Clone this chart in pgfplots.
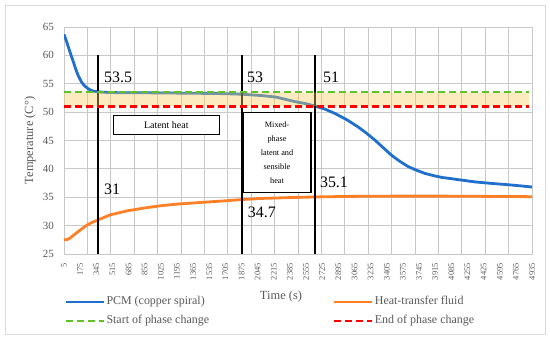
\documentclass[border=0pt]{standalone}
\usepackage{fontspec}
\setmainfont{Liberation Serif}
\usepackage{pgfplots}
\pgfplotsset{compat=1.18}
\definecolor{pcm}{RGB}{31,112,204}
\definecolor{htf}{RGB}{255,127,39}
\definecolor{startc}{RGB}{95,195,40}
\definecolor{endc}{RGB}{255,0,0}
\definecolor{bandc}{RGB}{247,205,92}
\definecolor{gridc}{RGB}{200,200,200}
\definecolor{txt}{RGB}{89,89,89}
\definecolor{framec}{RGB}{217,217,217}

\pgfplotstableread{
t T
5 63.7
20 63.0
33 62.4
50 61.5
68 60.6
85 59.75
103 58.9
120 58.0
139 57.1
156 56.4
174 55.8
190 55.3
208 54.9
235 54.45
261 54.1
290 53.85
314 53.7
366 53.58
420 53.5
500 53.45
600 53.42
900 53.4
1200 53.35
1500 53.3
1700 53.25
1885 53.15
2100 52.9
2238 52.65
2438 51.85
2550 51.5
2645 51.1
2750 50.55
2855 49.8
2980 48.7
3102 47.4
3190 46.3
3278 45.1
3370 43.7
3455 42.4
3545 41.3
3631 40.4
3720 39.75
3807 39.2
3900 38.8
3984 38.5
4160 38.1
4336 37.7
4500 37.45
4689 37.2
4850 36.95
4935 36.8
}\pcmdata

\pgfplotstableread{
t T
5 27.5
40 27.55
68 27.8
120 28.5
174 29.2
230 29.9
280 30.4
362 31.0
492 31.9
668 32.6
850 33.1
1021 33.5
1200 33.8
1373 34.0
1550 34.2
1726 34.4
1885 34.6
2100 34.8
2400 34.95
2645 35.05
3000 35.15
3500 35.2
4000 35.2
4500 35.15
4935 35.1
}\htfdata

\begin{document}
\begin{tikzpicture}[x=1bp,y=1bp]
\path[use as bounding box] (0,0) rectangle (550,339);
\draw[framec, line width=0.8bp] (5,5) rectangle (545,334);
\begin{axis}[
  at={(64bp,85bp)}, anchor=south west,
  scale only axis, width=468bp, height=227bp,
  xmin=5, xmax=4935, ymin=25, ymax=65,
  xtick={5,175,...,4935},
  minor xtick={5,251.5,498,744.5,991,1237.5,1484,1730.5,1977,2223.5,2470,2716.5,2963,3209.5,3456,3702.5,3949,4195.5,4442,4688.5,4935},
  ytick={25,30,...,65},
  ymajorgrids, xminorgrids, xmajorgrids=false,
  major grid style={gridc, line width=0.8bp},
  minor grid style={gridc, line width=0.8bp},
  axis line style={gridc, line width=0.8bp},
  major tick length=0pt, minor tick length=0pt,
  /pgf/number format/assume math mode=true,
  /pgf/number format/1000 sep={},
  tick label style={txt},
  yticklabel style={font=\fontsize{11}{12}\selectfont, inner sep=0pt, xshift=-10bp},
  xticklabel style={font=\fontsize{8.5}{9}\selectfont, rotate=90, anchor=east, inner sep=0pt, yshift=0bp, xshift=-9bp},
  every axis y label/.style={at={(axis description cs:-0.0726,0.5)}, rotate=90, anchor=center},
  every axis x label/.style={at={(axis description cs:0.4637,-0.189)}, anchor=center},
  label style={font=\fontsize{12.5}{14}\selectfont, txt},
  xlabel={Time (s)},
  ylabel={Temperature (C°)},
  legend columns=2,
  legend cell align=left,
  legend style={at={(axis description cs:0.0,-0.18)}, anchor=north west, draw=none, fill=none,
    inner sep=0pt, row sep=5bp,
    nodes={inner sep=1.5bp, text height=8bp, text depth=3bp, font=\fontsize{12}{13}\selectfont, text=txt},
    /tikz/every even column/.append style={column sep=122bp}},
  legend image code/.code={\draw[#1] (0bp,0bp) -- (38bp,0bp);},
]
\addplot[pcm, line width=2.8bp] table[x=t,y=T] {\pcmdata};
\addlegendentry{PCM (copper spiral)}
\addplot[htf, line width=2.8bp] table[x=t,y=T] {\htfdata};
\addlegendentry{Heat-transfer fluid}
\addplot[black, line width=1.8bp, forget plot] coordinates {(360,25) (360,60)};
\addplot[black, line width=1.8bp, forget plot] coordinates {(1878,25) (1878,60)};
\addplot[black, line width=1.8bp, forget plot] coordinates {(2645,25) (2645,60)};
\addplot[draw=none, fill=bandc, fill opacity=0.4, forget plot] coordinates {(5,51) (4905,51) (4905,53.5) (5,53.5) (5,51)};
\addplot[draw=startc, line width=2.4bp, dash pattern=on 7bp off 4bp] coordinates {(5,53.5) (4905,53.5)};
\addlegendentry{Start of phase change}
\addplot[draw=endc, line width=2.4bp, dash pattern=on 7bp off 4bp] coordinates {(5,51) (4905,51)};
\addlegendentry{End of phase change}
\node[anchor=west, inner sep=0pt, font=\fontsize{16}{17}\selectfont] at (axis cs:426,56.1) {53.5};
\node[anchor=west, inner sep=0pt, font=\fontsize{16}{17}\selectfont] at (axis cs:1933,56.1) {53};
\node[anchor=west, inner sep=0pt, font=\fontsize{16}{17}\selectfont] at (axis cs:2733,56.1) {51};
\node[anchor=west, inner sep=0pt, font=\fontsize{16}{17}\selectfont] at (axis cs:426,36.45) {31};
\node[anchor=west, inner sep=0pt, font=\fontsize{16}{17}\selectfont] at (axis cs:1940,32.4) {34.7};
\node[anchor=west, inner sep=0pt, font=\fontsize{16}{17}\selectfont] at (axis cs:2700,37.7) {35.1};
\node[draw=black, line width=1.2bp, fill=white, minimum width=106bp, minimum height=18.6bp, inner sep=0pt,
  font=\fontsize{10}{11}\selectfont] at (axis cs:1082.6,47.73) {Latent heat};
\node[draw=black, line width=1.2bp, fill=white, minimum width=68bp, minimum height=79.6bp, inner sep=0pt,
  align=center, font=\fontsize{8.3}{14}\selectfont] at (axis cs:2249,42.89) {Mixed-\\phase\\latent and\\sensible\\heat};
\end{axis}
\end{tikzpicture}
\end{document}
